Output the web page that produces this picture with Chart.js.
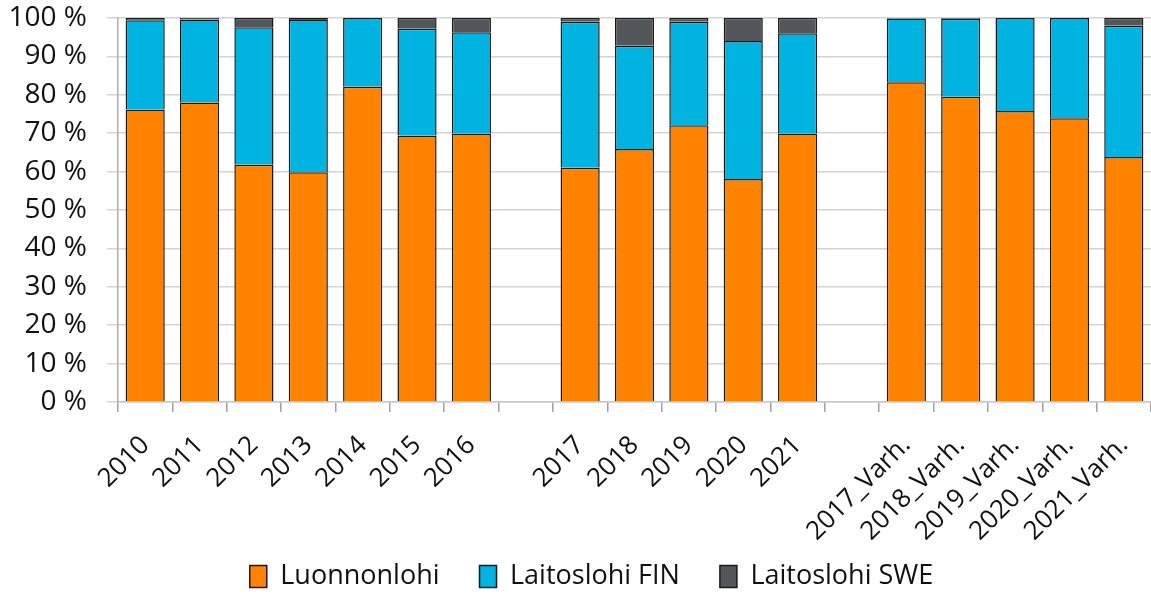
<!DOCTYPE html>
<html>
<head>
<meta charset="utf-8">
<script src="https://cdn.jsdelivr.net/npm/chart.js@4/dist/chart.umd.min.js"></script>
<style>
  html, body { margin: 0; padding: 0; background: #fff; }
  #wrap { width: 1151px; height: 595px; }
</style>
</head>
<body>
<div id="wrap"><canvas id="lohiChart"></canvas></div>
<script>
const categories = ['2010', '2011', '2012', '2013', '2014', '2015', '2016', '',
    '2017', '2018', '2019', '2020', '2021', '',
    '2017_Varh.', '2018_Varh.', '2019_Varh.', '2020_Varh.', '2021_Varh.'];

const luonnonlohi = [76.2, 78.0, 61.8, 59.8, 82.1, 69.4, 69.9, null,
    61.0, 65.9, 72.1, 58.1, 69.9, null,
    83.3, 79.5, 75.8, 73.9, 63.8];
const laitoslohiFin = [23.2, 21.6, 35.8, 39.7, 17.9, 27.8, 26.4, null,
    38.0, 26.9, 26.9, 35.9, 26.1, null,
    16.6, 20.3, 24.2, 26.1, 34.2];
const laitoslohiSwe = [0.6, 0.4, 2.4, 0.5, 0.0, 2.8, 3.7, null,
    1.0, 7.2, 1.0, 6.0, 4.0, null,
    0.1, 0.2, 0.0, 0.0, 2.0];

const yTicks = [0, 10, 20, 30, 40, 50, 60, 70, 80, 90, 100];

const fontFamily = '"Open Sans", "Noto Sans", sans-serif';

// legend sits low, close to the rotated x labels, a bit right of centre
const legendPlace = {
    id: 'legendPlace',
    beforeInit(chart) {
        const origFit = chart.legend.fit;
        chart.legend.fit = function () {
            origFit.call(this);
            this.height = 72;
        };
    },
    afterLayout(chart) {
        chart.legend.left += 16;
        chart.legend.right += 16;
    },
};

const ctx = document.getElementById('lohiChart').getContext('2d');
const lohiChart = new Chart(ctx, {
    type: 'bar',
    data: {
        labels: categories,
        datasets: [
            {
                label: 'Luonnonlohi',
                data: luonnonlohi,
                backgroundColor: '#ff8200',
                borderColor: '#1a1a1a',
                borderWidth: 1.5,
            },
            {
                label: 'Laitoslohi FIN',
                data: laitoslohiFin,
                backgroundColor: '#00b3e0',
                borderColor: '#1a1a1a',
                borderWidth: 1.5,
            },
            {
                label: 'Laitoslohi SWE',
                data: laitoslohiSwe,
                backgroundColor: '#53575a',
                borderColor: '#1a1a1a',
                borderWidth: 1.5,
            },
        ],
    },
    plugins: [legendPlace],
    options: {
        responsive: true,
        maintainAspectRatio: false,
        animation: false,
        layout: {
            padding: { top: 4, right: 0, left: 0, bottom: 0 },
        },
        datasets: {
            bar: {
                categoryPercentage: 1.0,
                barPercentage: 0.72,
            },
        },
        scales: {
            x: {
                stacked: true,
                afterFit: (scale) => {
                    scale.height = 121;
                    scale.paddingLeft = 0;
                    scale.paddingRight = 0;
                    // let the rotated labels run past the axis box
                    scale._computeLabelArea = () => undefined;
                },
                grid: {
                    offset: true,
                    drawOnChartArea: false,
                    tickLength: 10,
                    color: '#a0a0a0',
                    lineWidth: 1.5,
                },
                border: { color: '#c8c8c8', width: 1.5 },
                ticks: {
                    maxRotation: 45,
                    minRotation: 45,
                    autoSkip: false,
                    color: '#111',
                    padding: 18,
                    font: { family: fontFamily, size: 26 },
                },
            },
            y: {
                stacked: true,
                min: 0,
                max: 100,
                afterBuildTicks: (scale) => {
                    scale.ticks = yTicks.map((v) => ({ value: v }));
                },
                afterFit: (scale) => {
                    scale.width = 118;
                    scale.paddingTop = 18;
                },
                grid: {
                    color: '#d4d4d4',
                    lineWidth: 1.5,
                    tickLength: 11,
                },
                border: { color: '#b0b0b0', width: 1.5 },
                ticks: {
                    autoSkip: false,
                    color: '#111',
                    padding: 20,
                    font: { family: fontFamily, size: 28 },
                    callback: (value) => value + ' %',
                },
            },
        },
        plugins: {
            legend: {
                position: 'bottom',
                labels: {
                    boxWidth: 17,
                    boxHeight: 22,
                    color: '#111',
                    padding: 40,
                    font: { family: fontFamily, size: 27 },
                },
            },
            tooltip: { enabled: false },
        },
    },
});
</script>
</body>
</html>
